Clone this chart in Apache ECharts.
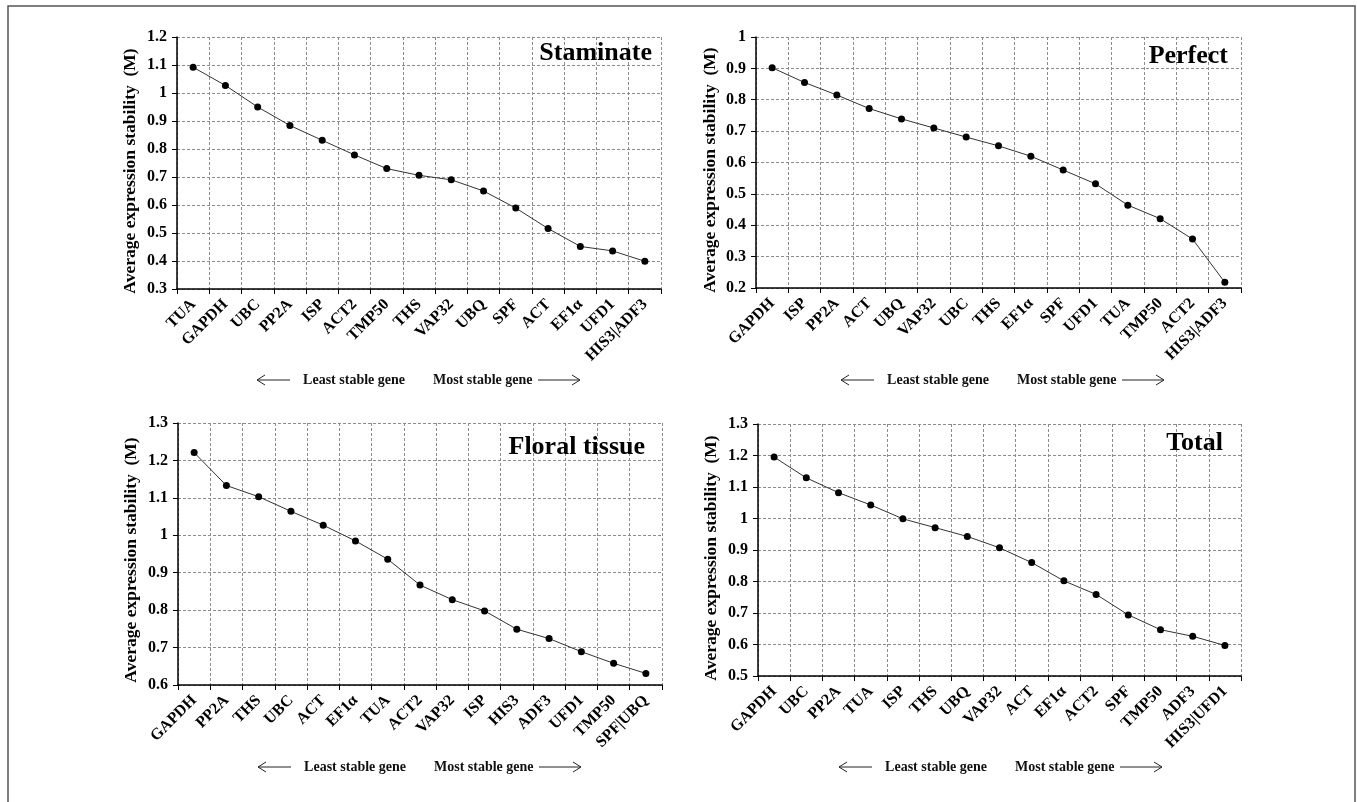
<!DOCTYPE html>
<html>
<head>
<meta charset="utf-8">
<script src="https://cdn.jsdelivr.net/npm/echarts@6/dist/echarts.min.js"></script>
<style>
  html, body { margin: 0; padding: 0; background: #fff; }
  #chart { width: 1357px; height: 802px; }
</style>
</head>
<body>
<div id="chart"></div>
<script>
// geNorm average expression stability (M) for each tissue group, least -> most stable
const staminateGenes = ['TUA', 'GAPDH', 'UBC', 'PP2A', 'ISP', 'ACT2', 'TMP50', 'THS', 'VAP32', 'UBQ', 'SPF', 'ACT', 'EF1\u03b1', 'UFD1', 'HIS3|ADF3'];
const staminateM = [1.092, 1.027, 0.950, 0.884, 0.831, 0.779, 0.730, 0.706, 0.690, 0.650, 0.589, 0.516, 0.452, 0.436, 0.399];

const perfectGenes = ['GAPDH', 'ISP', 'PP2A', 'ACT', 'UBQ', 'VAP32', 'UBC', 'THS', 'EF1\u03b1', 'SPF', 'UFD1', 'TUA', 'TMP50', 'ACT2', 'HIS3|ADF3'];
const perfectM = [0.902, 0.855, 0.815, 0.772, 0.739, 0.710, 0.681, 0.653, 0.620, 0.576, 0.532, 0.464, 0.421, 0.356, 0.218];

const floralGenes = ['GAPDH', 'PP2A', 'THS', 'UBC', 'ACT', 'EF1\u03b1', 'TUA', 'ACT2', 'VAP32', 'ISP', 'HIS3', 'ADF3', 'UFD1', 'TMP50', 'SPF|UBQ'];
const floralM = [1.221, 1.133, 1.103, 1.064, 1.027, 0.985, 0.936, 0.867, 0.828, 0.798, 0.749, 0.724, 0.689, 0.658, 0.631];

const totalGenes = ['GAPDH', 'UBC', 'PP2A', 'TUA', 'ISP', 'THS', 'UBQ', 'VAP32', 'ACT', 'EF1\u03b1', 'ACT2', 'SPF', 'TMP50', 'ADF3', 'HIS3|UFD1'];
const totalM = [1.195, 1.129, 1.082, 1.043, 0.999, 0.971, 0.943, 0.907, 0.860, 0.802, 0.759, 0.694, 0.647, 0.626, 0.597];

const panelTitles = ['Staminate', 'Perfect', 'Floral tissue', 'Total'];
const yAxisName = 'Average expression stability  (M)';
const yRanges = [[0.3, 1.2], [0.2, 1.0], [0.6, 1.3], [0.5, 1.3]];
const leastLabel = 'Least stable gene';
const mostLabel = 'Most stable gene';

const FONT = "'Liberation Serif', 'Times New Roman', serif";

// plot rectangles for the 2 x 2 layout
const grids = [
  { left: 177, top: 37, width: 484, height: 252 },
  { left: 756, top: 37, width: 485, height: 251 },
  { left: 178, top: 423, width: 484, height: 262 },
  { left: 758, top: 424, width: 483, height: 252 }
];
const titlePos = [
  { right: 705, top: 40 },
  { right: 129, top: 43 },
  { right: 712, top: 434 },
  { right: 134, top: 430 }
];
// centre of each rotated y-axis caption
const yNamePos = [[130, 171], [710, 170], [131, 560], [711, 558]];
const captionPos = [[418, 380], [1002, 380], [419, 767], [1000, 767]];

const panels = [
  [staminateGenes, staminateM],
  [perfectGenes, perfectM],
  [floralGenes, floralM],
  [totalGenes, totalM]
];

const gridLine = { show: true, lineStyle: { color: '#8c8c8c', width: 1, type: [3, 2] } };

const xAxes = panels.map((p, i) => ({
  type: 'category',
  gridIndex: i,
  data: p[0],
  boundaryGap: true,
  axisLine: { lineStyle: { color: '#000', width: 1.5 } },
  axisTick: { show: true, length: 5, lineStyle: { color: '#000', width: 1 } },
  splitLine: gridLine,
  axisLabel: {
    interval: 0, rotate: 45, margin: 13,
    fontFamily: FONT, fontWeight: 'bold', fontSize: 16, color: '#000'
  }
}));

const yAxes = panels.map((p, i) => ({
  type: 'value',
  gridIndex: i,
  min: yRanges[i][0],
  max: yRanges[i][1],
  interval: 0.1,
  axisLine: { show: true, lineStyle: { color: '#000', width: 1.5 } },
  axisTick: { show: true, length: 5, lineStyle: { color: '#000', width: 1 } },
  splitLine: gridLine,
  axisLabel: {
    margin: 10,
    fontFamily: FONT, fontWeight: 'bold', fontSize: 16, color: '#000',
    formatter: v => String(Math.round(v * 10) / 10)
  }
}));

const series = panels.map((p, i) => ({
  type: 'line',
  xAxisIndex: i,
  yAxisIndex: i,
  data: p[1],
  symbol: 'circle',
  symbolSize: 7,
  lineStyle: { color: '#333', width: 1 },
  itemStyle: { color: '#000' },
  animation: false
}));

const titles = panelTitles.map((t, i) => ({
  text: t,
  right: titlePos[i].right,
  top: titlePos[i].top,
  padding: 0,
  textStyle: { fontFamily: FONT, fontWeight: 'bold', fontSize: 26, color: '#000' }
}));

// "<-- Least stable gene   Most stable gene -->" caption under each panel
function caption(cx, cy) {
  const txt = { fontFamily: FONT, fontWeight: 'bold', fontSize: 14, fill: '#111' };
  const stroke = { stroke: '#222', lineWidth: 1 };
  return [
    { type: 'text', x: cx - 13, y: cy, style: Object.assign({ text: leastLabel, textAlign: 'right', textVerticalAlign: 'middle' }, txt) },
    { type: 'text', x: cx + 15, y: cy, style: Object.assign({ text: mostLabel, textAlign: 'left', textVerticalAlign: 'middle' }, txt) },
    { type: 'line', shape: { x1: cx - 161, y1: cy, x2: cx - 128, y2: cy }, style: stroke },
    { type: 'polyline', shape: { points: [[cx - 153, cy - 5], [cx - 161, cy], [cx - 153, cy + 5]] }, style: Object.assign({ fill: null }, stroke) },
    { type: 'line', shape: { x1: cx + 120, y1: cy, x2: cx + 162, y2: cy }, style: stroke },
    { type: 'polyline', shape: { points: [[cx + 154, cy - 5], [cx + 162, cy], [cx + 154, cy + 5]] }, style: Object.assign({ fill: null }, stroke) }
  ];
}

const graphics = [
  { type: 'rect', shape: { x: 8, y: 6, width: 1347, height: 806 }, style: { fill: null, stroke: '#555', lineWidth: 1.5 }, z: -1 }
];
yNamePos.forEach(p => graphics.push({
  type: 'text', x: p[0], y: p[1], rotation: Math.PI / 2,
  style: { text: yAxisName, textAlign: 'center', textVerticalAlign: 'middle', fontFamily: FONT, fontWeight: 'bold', fontSize: 17.5, fill: '#000' }
}));
captionPos.forEach(c => graphics.push(...caption(c[0], c[1])));

const chart = echarts.init(document.getElementById('chart'), null, { renderer: 'canvas' });
chart.setOption({
  backgroundColor: '#fff',
  animation: false,
  title: titles,
  grid: grids,
  xAxis: xAxes,
  yAxis: yAxes,
  series: series,
  graphic: graphics
});
</script>
</body>
</html>
